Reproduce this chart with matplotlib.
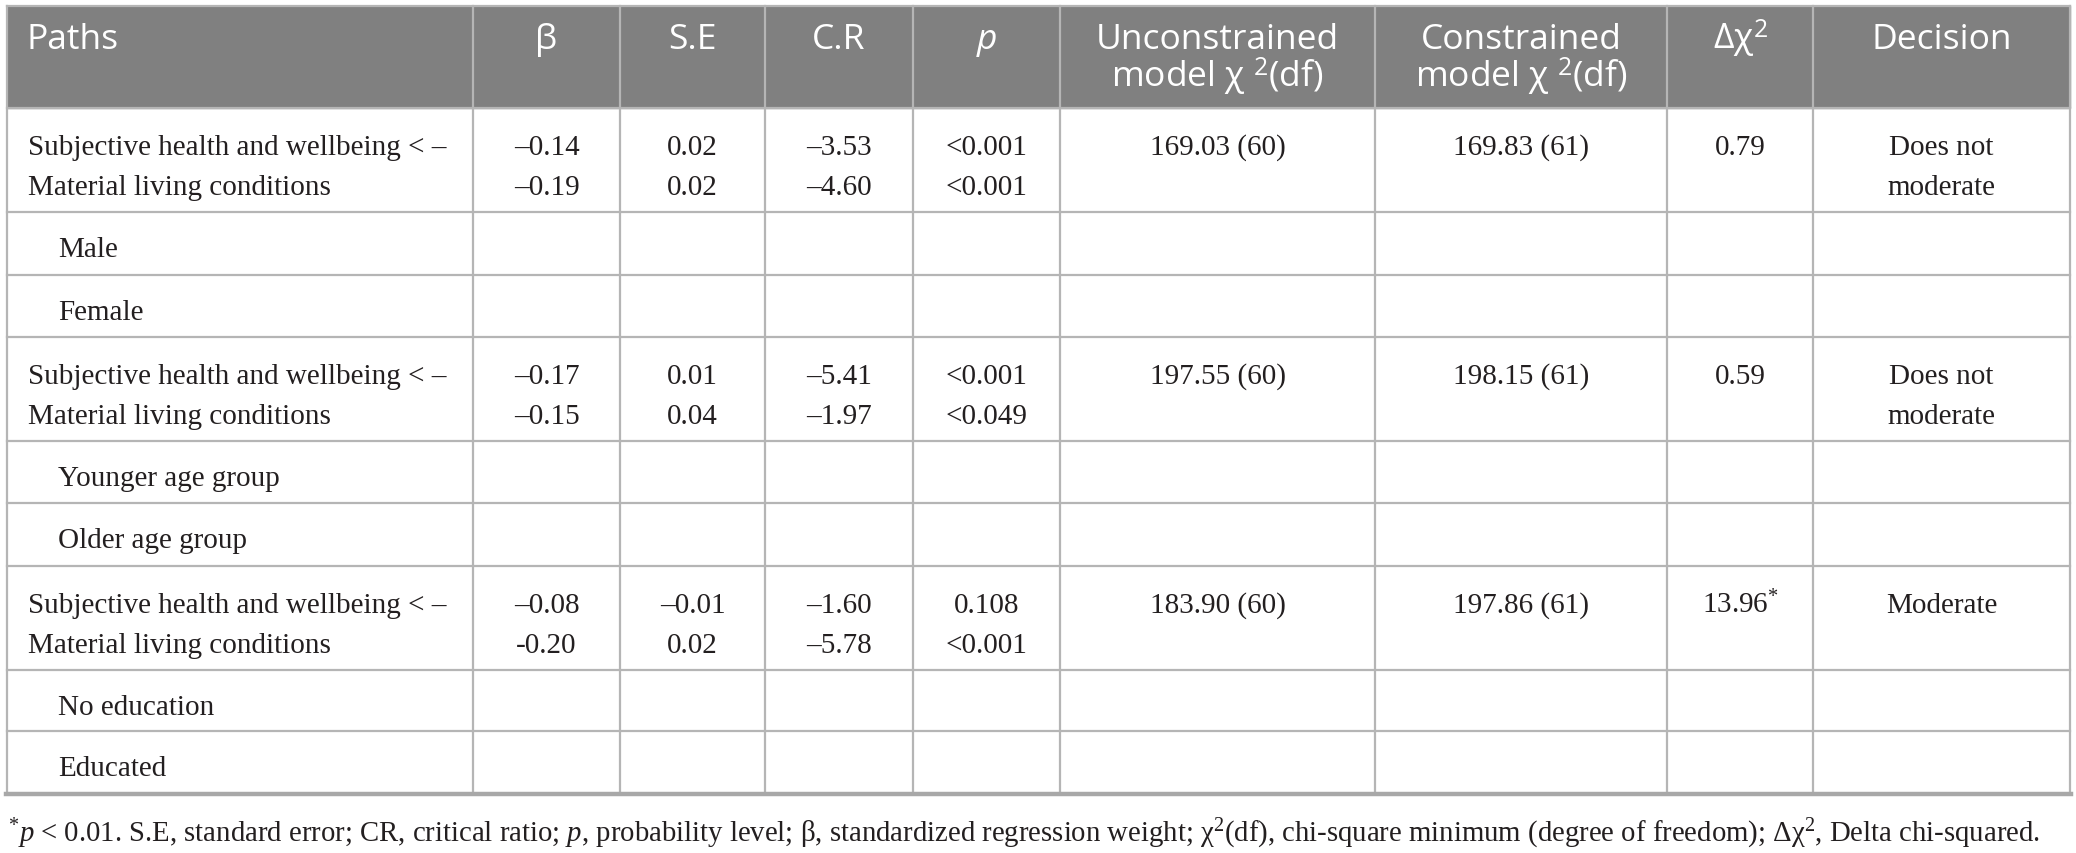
import matplotlib.pyplot as plt
from matplotlib.patches import Rectangle

plt.rcParams['mathtext.fontset'] = 'custom'
plt.rcParams['mathtext.rm'] = 'Liberation Serif'
plt.rcParams['mathtext.it'] = 'Liberation Serif:italic'
plt.rcParams['mathtext.sf'] = 'Open Sans'

# table content
headers = ['Paths', 'β', 'S.E', 'C.R', 'p',
           'Unconstrained\nmodel χ $^{\\mathsf{2}}$(df)',
           'Constrained\nmodel χ $^{\\mathsf{2}}$(df)',
           'Δχ$^{\\mathsf{2}}$', 'Decision']
path_text = ['Subjective health and wellbeing < –', 'Material living conditions']
groups = [['Male', 'Female'],
          ['Younger age group', 'Older age group'],
          ['No education', 'Educated']]
beta = [['–0.14', '–0.19'], ['–0.17', '–0.15'], ['–0.08', '-0.20']]
se = [['0.02', '0.02'], ['0.01', '0.04'], ['–0.01', '0.02']]
cr = [['–3.53', '–4.60'], ['–5.41', '–1.97'], ['–1.60', '–5.78']]
pval = [['<0.001', '<0.001'], ['<0.001', '<0.049'], ['0.108', '<0.001']]
unconstrained = ['169.03 (60)', '197.55 (60)', '183.90 (60)']
constrained = ['169.83 (61)', '198.15 (61)', '197.86 (61)']
delta_chi = ['0.79', '0.59', '13.96$^{*}$']
decision = [['Does not', 'moderate'], ['Does not', 'moderate'], ['Moderate']]

footnote = ('$^{*}$$p$ < 0.01. S.E, standard error; CR, critical ratio; $p$, probability level; '
            'β, standardized regression weight; χ$^{2}$(df), chi-square minimum (degree of freedom); '
            'Δχ$^{2}$, Delta chi-squared.')

W, H = 2076, 854
fig = plt.figure(figsize=(W / 100, H / 100), dpi=100)
ax = fig.add_axes([0, 0, 1, 1])
ax.set_xlim(0, W)
ax.set_ylim(H, 0)
ax.axis('off')

col_x = [7, 473, 620, 765, 913, 1060, 1375, 1667, 1813, 2070]
top, head_bot = 7, 109
row_y = [109, 213, 276, 338, 442, 504, 567, 671, 732, 795]
line_c = '#b5b5b5'
txt_c = '#231f20'
serif = 'Liberation Serif'
sans = 'Open Sans'
fs_body = 21
fs_head = 25.5

ax.add_patch(Rectangle((col_x[0], top), col_x[-1] - col_x[0], head_bot - top,
                       color='#808080', zorder=0))

# grid
for x in col_x:
    ax.plot([x, x], [top, row_y[-1]], color=line_c, lw=1.6, zorder=2)
for y in [top] + row_y[:-1]:
    ax.plot([col_x[0], col_x[-1]], [y, y], color=line_c, lw=1.6, zorder=2)
ax.plot([col_x[0] - 1, col_x[-1] + 1], [row_y[-1], row_y[-1]], color='#a8a8a8', lw=3.2, zorder=2)

centers = [(col_x[i] + col_x[i + 1]) / 2 for i in range(len(col_x) - 1)]

# header
for i, h in enumerate(headers):
    lines = h.split('\n')
    for k, ln in enumerate(lines):
        yb = top + 42 + k * 39
        if i == 0:
            ax.text(26, yb, ln, ha='left', va='baseline', color='white',
                    fontsize=fs_head, family=sans)
        else:
            style = 'italic' if ln == 'p' else 'normal'
            ax.text(centers[i], yb, ln, ha='center', va='baseline', color='white',
                    fontsize=fs_head, family=sans, fontstyle=style)

# body
def cell(x, y, s, ha='center'):
    ax.text(x, y, s, ha=ha, va='baseline', fontsize=fs_body, family=serif, color=txt_c)

for g in range(3):
    r0 = row_y[3 * g]
    for k in range(2):
        yb = r0 + 46 + k * 40
        cell(28, yb, path_text[k], ha='left')
        cell(centers[1], yb, beta[g][k])
        cell(centers[2], yb, se[g][k])
        cell(centers[3], yb, cr[g][k])
        cell(centers[4], yb, pval[g][k])
    yb = r0 + 46
    cell(centers[5], yb, unconstrained[g])
    cell(centers[6], yb, constrained[g])
    cell(centers[7], yb, delta_chi[g])
    for k, d in enumerate(decision[g]):
        cell(centers[8], yb + k * 40, d)
    for k, name in enumerate(groups[g]):
        rt = row_y[3 * g + 1 + k]
        cell(58, rt + 44, name, ha='left')

ax.text(8, 842, footnote, ha='left', va='baseline', fontsize=20.7, family=serif, color=txt_c)

fig.savefig('out.png', dpi=100)
